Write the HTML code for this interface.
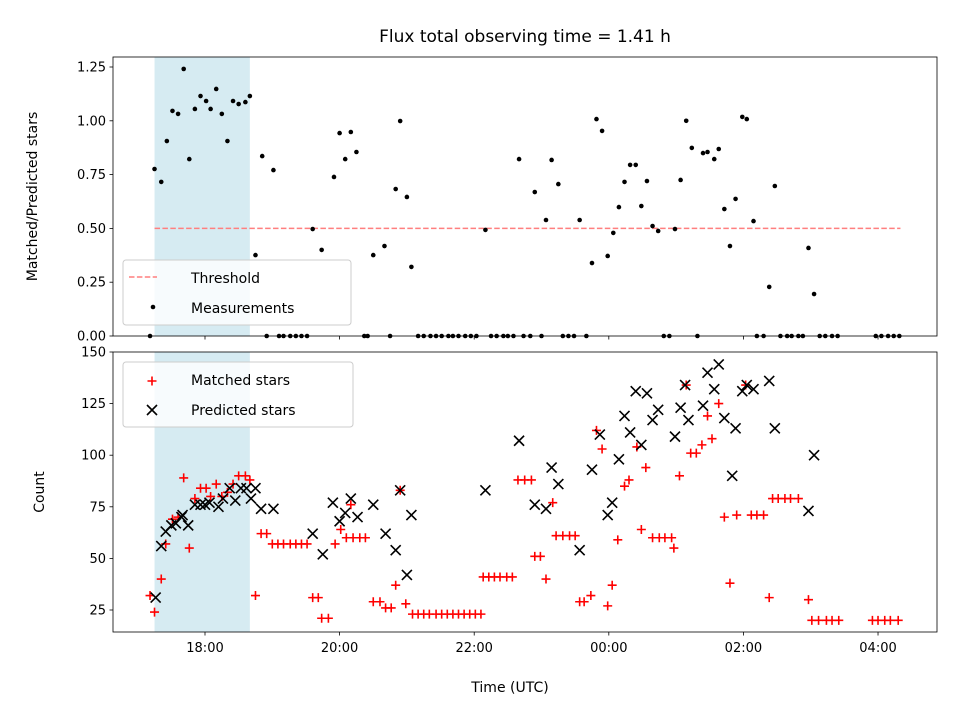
<!DOCTYPE html>
<html><head><meta charset="utf-8"><style>
body{margin:0;background:#fff}
svg{display:block;font-family:"DejaVu Sans","Liberation Sans",sans-serif}
</style></head><body>
<svg id="c" width="960" height="720"></svg>
<script>
// times in minutes relative to 18:00 UTC
const tickLabels = ["18:00","20:00","22:00","00:00","02:00","04:00"];
const tickMinutes = [0,120,240,360,480,600];
const ratioTicks = [0,0.25,0.5,0.75,1.0,1.25];
const countTicks = [25,50,75,100,125,150];
const shadeRange = [-45,40];
const threshold = 0.5;
const thresholdRange = [-45,620];
const measureTimes = [-49,-45,-39,-34,-29,-24,-19,-14,-9,-4,1,5,10,15,20,25,30,36,40,45,51,61,96,104,115,120,125,130,135,150,160,170,174,180,184,250,280,294,304,309,315,334,345,349,354,359,364,369,374,379,384,389,394,399,404,419,424,429,434,444,448,454,458,463,468,473,479,483,489,503,508,538,543,
55,66,70,76,81,86,91,142,145,165,190,195,201,206,211,217,221,226,232,237,242,255,260,266,270,275,284,290,300,319,324,329,340,409,414,439,492,498,513,519,523,529,533,548,553,559,564,598,603,609,614,619];
const measureValues = [0,.776,.716,.906,1.046,1.032,1.241,.822,1.055,1.115,1.092,1.055,1.148,1.032,.906,1.092,1.078,1.087,1.115,.376,.836,.771,.497,.40,.739,.943,.822,.948,.855,.376,.418,.683,.999,.646,.321,.493,.822,.669,.539,.818,.706,.539,.339,1.008,.953,.372,.479,.599,.716,.795,.795,.604,.72,.511,.488,.497,.725,1.0,.874,.85,.855,.822,.869,.59,.418,.637,1.018,1.008,.534,.228,.697,.409,.195,
0,0,0,0,0,0,0,0,0,0,0,0,0,0,0,0,0,0,0,0,0,0,0,0,0,0,0,0,0,0,0,0,0,0,0,0,0,0,0,0,0,0,0,0,0,0,0,0,0,0,0,0];
const matchedTimes = [-49,-45,-39,-35,-29,-24,-19,-14,-9,-4,1,5,10,15,20,25,30,36,40,45,50,55,60,65,70,76,81,86,91,96,101,104,110,116,121,126,130,132,138,143,150,156,161,166,170,174,179,
185,190,195,200,206,211,216,221,226,231,236,241,246,248,253,258,263,269,274,279,285,291,294,299,304,310,313,319,325,330,334,338,344,349,354,359,363,368,374,378,385,389,393,399,405,410,416,418,423,429,433,438,443,452,448,458,468,463,474,487,492,498,482,503,506,511,517,522,529,538,541,547,554,559,565,595,600,606,611,618];
const matchedValues = [32,24,40,57,69,70,89,55,79,84,84,80,86,80,82,86,90,90,88,32,62,62,57,57,57,57,57,57,57,31,31,21,21,57,64,60,76,60,60,60,29,29,26,26,37,83,28,
23,23,23,23,23,23,23,23,23,23,23,23,23,41,41,41,41,41,41,88,88,88,51,51,40,77,61,61,61,61,29,29,32,112,103,27,37,59,85,88,104,64,94,60,60,60,60,55,90,134,101,101,105,108,119,125,38,70,71,71,71,71,134,31,79,79,79,79,79,30,20,20,20,20,20,20,20,20,20,20];
const predictedTimes = [-44,-39,-35,-30,-26,-21,-20,-15,-9,-4,0,4,12,16,22,27,32,37,41,45,50,61,96,105,114,120,125,130,136,150,161,170,174,180,184,250,280,294,304,309,315,334,345,352,359,363,369,374,379,384,389,394,399,404,419,424,428,431,444,448,454,458,463,470,473,479,483,489,503,508,538,543];
const predictedValues = [31,56,63,66,67,70,71,66,76,76,76,77,75,79,84,78,84,84,79,84,74,74,62,52,77,68,72,79,70,76,62,54,83,42,71,83,107,76,74,94,86,54,93,110,71,77,98,119,111,131,105,130,117,122,109,123,134,117,124,140,132,144,118,90,113,131,134,132,136,113,73,100];

const NS="http://www.w3.org/2000/svg", svg=document.getElementById('c');
function mk(tag,attrs,parent,name,inter){const e=document.createElementNS(NS,tag);for(const k in attrs)e.setAttribute(k,attrs[k]);


(parent||svg).appendChild(e);return e;}
const X0=113,X1=937;
const xs=m=>205+m*1.1217;
const yTop=v=>336-v*215.2;
const yBot=v=>610-(v-25)*2.064;
const T0=57,T1=336,B0=352,B1=632;

function axes(top,bot,yTicks,yf,fmt,label,lx,prefix,showX){
  const g=mk('g',{},svg,prefix+'-axes');
  const gx=xs(shadeRange[0]),gx2=xs(shadeRange[1]);
  mk('rect',{x:gx,y:top,width:gx2-gx,height:bot-top,fill:'#add8e6','fill-opacity':0.5},g,prefix+'-shaded-region');
  yTicks.forEach(v=>{const y=yf(v);
    mk('line',{x1:X0-3.5,x2:X0,y1:y,y2:y,stroke:'#000','stroke-width':0.8},g,prefix+'-y-tick');
    const t=mk('text',{x:X0-7,y:y+4.5,'text-anchor':'end','font-size':13},g,prefix+'-y-tick-label');t.textContent=fmt(v);});
  tickMinutes.forEach((m,i)=>{const x=xs(m);
    mk('line',{x1:x,x2:x,y1:bot,y2:bot+3.5,stroke:'#000','stroke-width':0.8},g,prefix+'-x-tick');
    if(showX){const t=mk('text',{x:x,y:bot+20,'text-anchor':'middle','font-size':13},g,'x-tick-label');t.textContent=tickLabels[i];}});
  const yl=mk('text',{x:lx,y:(top+bot)/2,'text-anchor':'middle','font-size':14,transform:`rotate(-90 ${lx} ${(top+bot)/2})`},g,prefix+'-y-axis-title');yl.textContent=label;
  return g;
}
const gt=axes(T0,T1,ratioTicks,yTop,v=>v.toFixed(2),'Matched/Predicted stars',37,'top',false);
const gb=axes(B0,B1,countTicks,yBot,v=>String(v),'Count',44,'bottom',true);

mk('line',{x1:xs(thresholdRange[0]),x2:xs(thresholdRange[1]),y1:yTop(threshold),y2:yTop(threshold),stroke:'#ff7f7f','stroke-width':1.5,'stroke-dasharray':'5.5,2.4'},gt,'threshold-line');
measureTimes.forEach((m,i)=>{if(measureValues[i]===undefined)return;mk('circle',{cx:xs(m),cy:yTop(measureValues[i]),r:2.3,fill:'#000'},gt,'measurement-point');});
function plus(g,x,y,name){mk('path',{d:`M${x-4.5},${y}H${x+4.5}M${x},${y-4.5}V${y+4.5}`,stroke:'#f00','stroke-width':1.6,fill:'none'},g,name);}
function cross(g,x,y,name){mk('path',{d:`M${x-5},${y-5}L${x+5},${y+5}M${x-5},${y+5}L${x+5},${y-5}`,stroke:'#000','stroke-width':1.6,fill:'none'},g,name);}
matchedTimes.forEach((m,i)=>{if(matchedValues[i]===undefined)return;plus(gb,xs(m),yBot(matchedValues[i]),'matched-point');});
predictedTimes.forEach((m,i)=>{if(predictedValues[i]===undefined)return;cross(gb,xs(m),yBot(predictedValues[i]),'predicted-point');});

mk('rect',{x:X0,y:T0,width:X1-X0,height:T1-T0,fill:'none',stroke:'#000','stroke-width':0.8},svg,'top-plot-frame');
mk('rect',{x:X0,y:B0,width:X1-X0,height:B1-B0,fill:'none',stroke:'#000','stroke-width':0.8},svg,'bottom-plot-frame');

// legends
const l1=mk('g',{},svg,'top-legend');
mk('rect',{x:123,y:260,width:228,height:65,rx:3,fill:'#fff','fill-opacity':0.8,stroke:'#ccc'},l1,'legend-box');
mk('line',{x1:129,x2:157,y1:277,y2:277,stroke:'#ff7f7f','stroke-width':1.5,'stroke-dasharray':'5.5,2.4'},l1,'legend-threshold-swatch');
let t=mk('text',{x:191,y:283,'font-size':14},l1,'legend-threshold-label');t.textContent='Threshold';
mk('circle',{cx:153,cy:307,r:2.3,fill:'#000'},l1,'legend-measurements-swatch');
t=mk('text',{x:191,y:313,'font-size':14},l1,'legend-measurements-label');t.textContent='Measurements';
const l2=mk('g',{},svg,'bottom-legend');
mk('rect',{x:123,y:362,width:230,height:65,rx:3,fill:'#fff','fill-opacity':0.8,stroke:'#ccc'},l2,'legend-box');
plus(l2,152,381,'legend-matched-swatch');
t=mk('text',{x:191,y:385,'font-size':14},l2,'legend-matched-label');t.textContent='Matched stars';
cross(l2,152,410,'legend-predicted-swatch');
t=mk('text',{x:191,y:415,'font-size':14},l2,'legend-predicted-label');t.textContent='Predicted stars';

t=mk('text',{x:525,y:42,'text-anchor':'middle','font-size':17},svg,'chart-title');t.textContent='Flux total observing time = 1.41 h';
t=mk('text',{x:510,y:692,'text-anchor':'middle','font-size':14},svg,'x-axis-title');t.textContent='Time (UTC)';
</script>
</body></html>
